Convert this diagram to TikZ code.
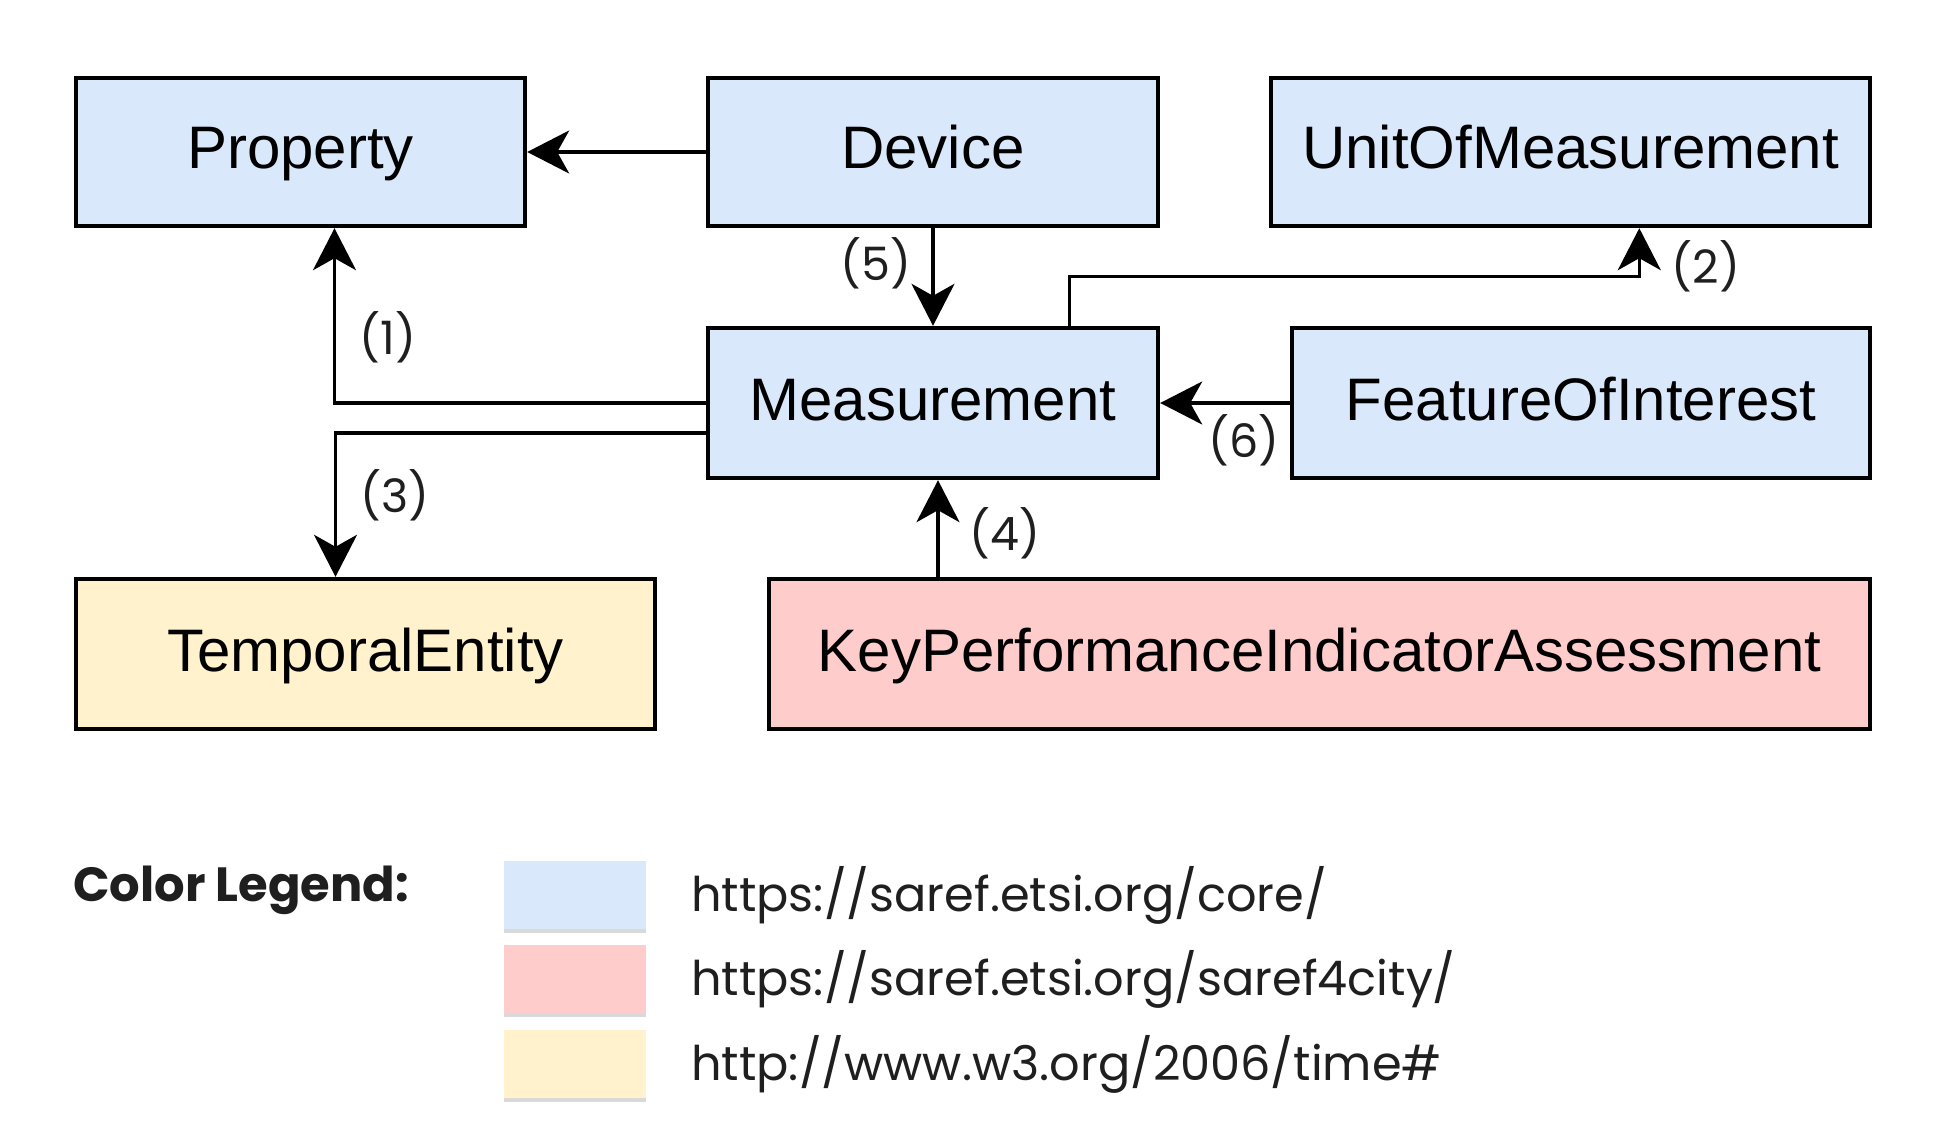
\documentclass[tikz,border=0pt]{standalone}
\usepackage{fontspec}
\setmainfont{Liberation Sans}
\newfontfamily\pop{Poppins}
\usetikzlibrary{arrows.meta,calc}
\definecolor{cblue}{HTML}{DAE8FC}
\definecolor{cred}{HTML}{FFCCCC}
\definecolor{cyel}{HTML}{FFF2CC}
\definecolor{lbl}{HTML}{1F1F1F}
\begin{document}
\begin{tikzpicture}[x=1pt,y=-1pt,
  box/.style={draw=black,line width=4.4pt,rectangle,inner sep=0pt,
    text height=43pt,text depth=9pt,
    font=\fontsize{60}{70}\selectfont,text=black},
  arr/.style={line width=3.2pt,-{Stealth[length=42pt,width=43pt,inset=12pt]}},
  lab/.style={font=\pop\fontsize{46}{52}\selectfont,text=lbl,inner sep=0pt},
  leg/.style={font=\pop\fontsize{47.8}{54}\selectfont,text=black!88,anchor=west,inner sep=0pt},
  swatch/.style={minimum width=142pt,minimum height=68pt,inner sep=0pt}]
\useasboundingbox (0,0) rectangle (1943,1139);
\fill[white] (0,0) rectangle (1943,1139);

% nodes
\node[box,fill=cblue,minimum width=449pt,minimum height=148pt] (prop) at (300.5,152) {Property};
\node[box,fill=cblue,minimum width=450pt,minimum height=148pt] (dev) at (933,152) {Device};
\node[box,fill=cblue,minimum width=599pt,minimum height=148pt] (uom) at (1570.5,152) {UnitOfMeasurement};
\node[box,fill=cblue,minimum width=450pt,minimum height=150pt] (meas) at (933,403) {Measurement};
\node[box,fill=cblue,minimum width=578pt,minimum height=150pt] (foi) at (1581,403) {FeatureOfInterest};
\node[box,fill=cyel,minimum width=579pt,minimum height=150pt] (temp) at (365.5,654) {TemporalEntity};
\node[box,fill=cred,minimum width=1101pt,minimum height=150pt] (kpi) at (1319.5,654) {KeyPerformanceIndicatorAssessment};

% connectors
\draw[arr] (dev.west) -- (prop.east);
\draw[arr] (dev.south) -- (meas.north);
\draw[arr] ($(meas.north west)!0.8!(meas.north east)$) -- ++(0,-49) -| ($(uom.south west)!0.614!(uom.south east)$);
\draw[arr] (meas.west) -| ([xshift=34pt]prop.south);
\draw[arr] ([yshift=-30pt]meas.west) -| ([xshift=-30pt]temp.north);
\draw[arr] (foi.west) -- (meas.east);
\coordinate (m4) at ([xshift=5pt]meas.south);
\draw[arr] (kpi.north -| m4) -- (m4);

% labels
\node[lab] (l5) at (876,263) {(5)};
\node[lab] (l2) at (1706,266) {(2)};
\node[lab] (l1) at (388,337) {(1)};
\node[lab] (l3) at (395,495) {(3)};
\node[lab] (l6) at (1244,440) {(6)};
\node[lab] (l4) at (1005,533) {(4)};

% legend
\node[font=\pop\bfseries\fontsize{48}{54}\selectfont,anchor=west,inner sep=0pt,text=black!88] (legtitle) at (73,890) {Color Legend:};
\foreach \c/\y/\n in {cblue/895/s1,cred/979/s2,cyel/1064/s3}{
  \fill[black!15] (504,\y-30) rectangle (646,\y+38);
  \node[swatch,fill=\c] (\n) at (575,\y) {};
}
\node[leg] (t1) at (691,895) {https://saref.etsi.org/core/};
\node[leg] (t2) at (691,979) {https://saref.etsi.org/saref4city/};
\node[leg] (t3) at (691,1064) {http://www.w3.org/2006/time\#};
\end{tikzpicture}
\end{document}
